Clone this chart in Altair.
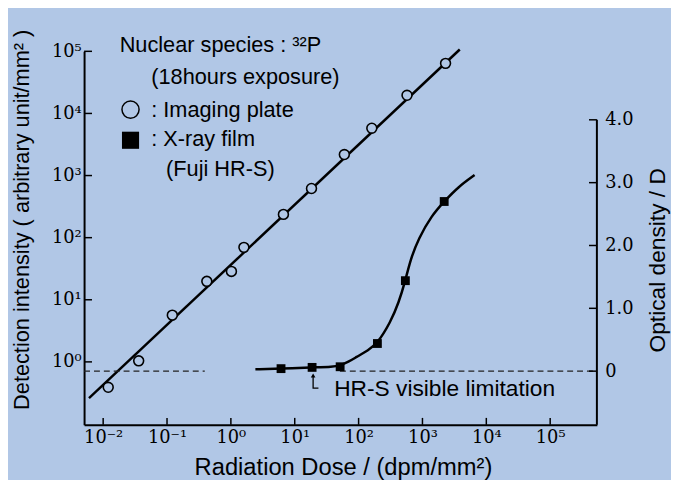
import altair as alt
import pandas as pd

BG = "#b1c7e6"
W, H = 519, 378

# ---- data ----
ip_dose = [0.012, 0.036, 0.121, 0.42, 1.02, 1.6, 6.65, 18.3, 59.8, 161, 573, 2300]
ip_intensity = [0.39, 1.04, 5.65, 19.8, 28.6, 69.8, 237, 619, 2180, 5780, 19600, 64000]
ip_fit_dose = [0.0060, 3840]
ip_fit_intensity = [0.26, 107000]

film_dose = [6.1, 18.7, 51.4, 197, 540, 2190]
film_density = [0.04, 0.06, 0.07, 0.44, 1.44, 2.70]
curve_dose = [2.42, 6.1, 18.7, 40.0, 50.1, 70.0, 90.8, 140, 197, 316, 425, 540, 646, 867, 1400, 2190, 3610, 6550]
curve_density = [0.03, 0.04, 0.06, 0.07, 0.09, 0.15, 0.22, 0.33, 0.44, 0.78, 1.09, 1.44, 1.77, 2.11, 2.48, 2.70, 2.93, 3.12]

limit_start = [0.005026, 51.0]
limit_end = [0.39, 539000]
limit_density = [0, 0]

arrow_dose = [23.5, 19.4, 19.4]
arrow_density = [-0.27, -0.27, -0.09]
arrow_head_dose = [19.4]
arrow_head_density = [-0.07]
note_dose = [41.5]
note_density = [-0.40]
note_text = ["HR-S visible limitation"]

x_ticks = [0.01, 0.1, 1, 10, 100, 1000, 10000, 100000]
x_labels = ["10⁻²", "10⁻¹", "10⁰", "10¹", "10²", "10³", "10⁴", "10⁵"]
y_ticks = [1, 10, 100, 1000, 10000, 100000]
y_labels = ["10⁰", "10¹", "10²", "10³", "10⁴", "10⁵"]
d_ticks = [0, 1, 2, 3, 4]
d_labels = ["0", "1.0", "2.0", "3.0", "4.0"]

x_domain = [0.005026, 539000]
y_domain = [0.0970, 100000]
d_domain = [-0.854, 5.09]

SANS = "Liberation Sans"
SERIF = "DejaVu Serif"


def arr_expr(labels, offset):
    return "[" + ",".join("'" + s + "'" for s in labels) + "][round(log(datum.value)/LN10)+" + str(offset) + "]"


x_axis = alt.Axis(orient="bottom", values=x_ticks, labelExpr=arr_expr(x_labels, 2), ticks=False,
                  domainColor="black", domainWidth=2, grid=False, labelFont=SERIF, labelFontSize=18,
                  labelColor="black", labelPadding=4, labelFlush=False, labelOverlap=False,
                  title="Radiation Dose / (dpm/mm²)", titleFont=SANS, titleFontSize=24,
                  titleFontWeight="normal", titleColor="black", titleX=262, titleY=43,
                  titleBaseline="middle", titleAlign="center")
y_axis = alt.Axis(orient="left", values=y_ticks, labelExpr=arr_expr(y_labels, 0), ticks=False,
                  domainColor="black", domainWidth=2, grid=False, labelFont=SERIF, labelFontSize=18,
                  labelColor="black", labelPadding=3, labelFlush=False, labelOverlap=False,
                  title="Detection intensity ( arbitrary unit/mm² )", titleFont=SANS, titleFontSize=22,
                  titleFontWeight="normal", titleColor="black", titleX=-63, titleY=170,
                  titleAngle=270, titleBaseline="middle", titleAlign="center")
d_expr = "[" + ",".join("'" + s + "'" for s in d_labels) + "][round(datum.value)]"
d_axis = alt.Axis(orient="right", values=d_ticks, labelExpr=d_expr, ticks=False, domain=False,
                  grid=False, labelFont=SERIF, labelFontSize=18, labelColor="black", labelPadding=8,
                  labelFlush=False, labelOverlap=False,
                  title="Optical density / D", titleFont=SANS, titleFontSize=23,
                  titleFontWeight="normal", titleColor="black", titleX=61, titleY=211,
                  titleAngle=270, titleBaseline="middle", titleAlign="center")

X = alt.X("dose:Q", scale=alt.Scale(type="log", domain=x_domain, nice=False), axis=x_axis)
YI = alt.Y("v:Q", scale=alt.Scale(type="log", domain=y_domain, nice=False), axis=y_axis)
YD = alt.Y("d:Q", scale=alt.Scale(domain=d_domain, nice=False, zero=False), axis=d_axis)

dummy = pd.DataFrame({"a": [0]})

# ---- left (log) layer ----
ip_line = alt.Chart(pd.DataFrame({"dose": ip_fit_dose, "v": ip_fit_intensity})).mark_line(
    color="black", strokeWidth=2.5).encode(x=X, y=YI)
ip_pts = alt.Chart(pd.DataFrame({"dose": ip_dose, "v": ip_intensity})).mark_point(
    shape="circle", filled=True, fill=BG, stroke="black", strokeWidth=1.6, size=100, opacity=1
).encode(x=X, y=YI)
left_ticks = alt.Chart(pd.DataFrame({"v": y_ticks})).mark_rule(color="black", strokeWidth=1.5).encode(
    y=YI, x=alt.value(0), x2=alt.value(8))
bottom_ticks = alt.Chart(pd.DataFrame({"dose": x_ticks})).mark_rule(color="black", strokeWidth=1.5).encode(
    x=X, y=alt.value(H - 7), y2=alt.value(H))


def txt(s, x, y):
    return alt.Chart(dummy).mark_text(align="left", baseline="alphabetic", font=SANS, fontSize=22,
                                      color="black").encode(x=alt.value(x), y=alt.value(y), text=alt.value(s))


legend_items = [
    txt("Nuclear species : ³²P", 36, 1),
    txt("(18hours exposure)", 68, 33),
    txt(": Imaging plate", 68, 66),
    txt(": X-ray film", 68, 96),
    txt("(Fuji HR-S)", 83, 126),
    alt.Chart(dummy).mark_point(shape="circle", filled=True, fill=BG, stroke="black", strokeWidth=1.5,
                                size=300, opacity=1).encode(x=alt.value(47), y=alt.value(59)),
    alt.Chart(dummy).mark_point(shape="square", filled=True, color="black", size=300,
                                opacity=1).encode(x=alt.value(47), y=alt.value(90)),
]

layer_left = alt.layer(ip_line, ip_pts, left_ticks, bottom_ticks, *legend_items)

# ---- right (density) layer ----
limit = alt.Chart(pd.DataFrame({"dose": limit_start, "dose2": limit_end, "d": limit_density})).mark_rule(
    color="#222", strokeWidth=1.2, strokeDash=[6, 4]).encode(x=X, x2="dose2:Q", y=YD)
curve = alt.Chart(pd.DataFrame({"dose": curve_dose, "d": curve_density})).mark_line(
    color="black", strokeWidth=2.5, interpolate="basis").encode(x=X, y=YD)
film_pts = alt.Chart(pd.DataFrame({"dose": film_dose, "d": film_density})).mark_point(
    shape="square", filled=True, color="black", size=80, opacity=1).encode(x=X, y=YD)
right_line = alt.Chart(pd.DataFrame({"d": [d_ticks[-1]]})).mark_rule(color="black", strokeWidth=2).encode(
    y=YD, y2=alt.value(H), x=alt.value(W))
right_ticks = alt.Chart(pd.DataFrame({"d": d_ticks})).mark_rule(color="black", strokeWidth=1.5).encode(
    y=YD, x=alt.value(W - 8), x2=alt.value(W))
arrow = alt.Chart(pd.DataFrame({"dose": arrow_dose, "d": arrow_density, "o": [0, 1, 2]})).mark_line(
    color="black", strokeWidth=1.3).encode(x=X, y=YD, order="o:Q")
arrow_head = alt.Chart(pd.DataFrame({"dose": arrow_head_dose, "d": arrow_head_density})).mark_point(
    shape="triangle-up", filled=True, color="black", size=22, opacity=1).encode(x=X, y=YD)
note = alt.Chart(pd.DataFrame({"dose": note_dose, "d": note_density, "t": note_text})).mark_text(
    align="left", baseline="alphabetic", font=SANS, fontSize=23, color="black").encode(x=X, y=YD, text="t:N")

layer_right = alt.layer(limit, curve, film_pts, right_line, right_ticks, arrow, arrow_head, note)

chart = alt.layer(layer_left, layer_right).resolve_scale(y="independent").properties(
    width=W, height=H,
    autosize=alt.AutoSizeParams(type="none"),
    padding={"left": 77, "top": 41, "right": 75, "bottom": 53},
    background=BG,
).configure_view(stroke=None)

chart.save("out.html", embed_options={"renderer": "svg", "actions": False})
